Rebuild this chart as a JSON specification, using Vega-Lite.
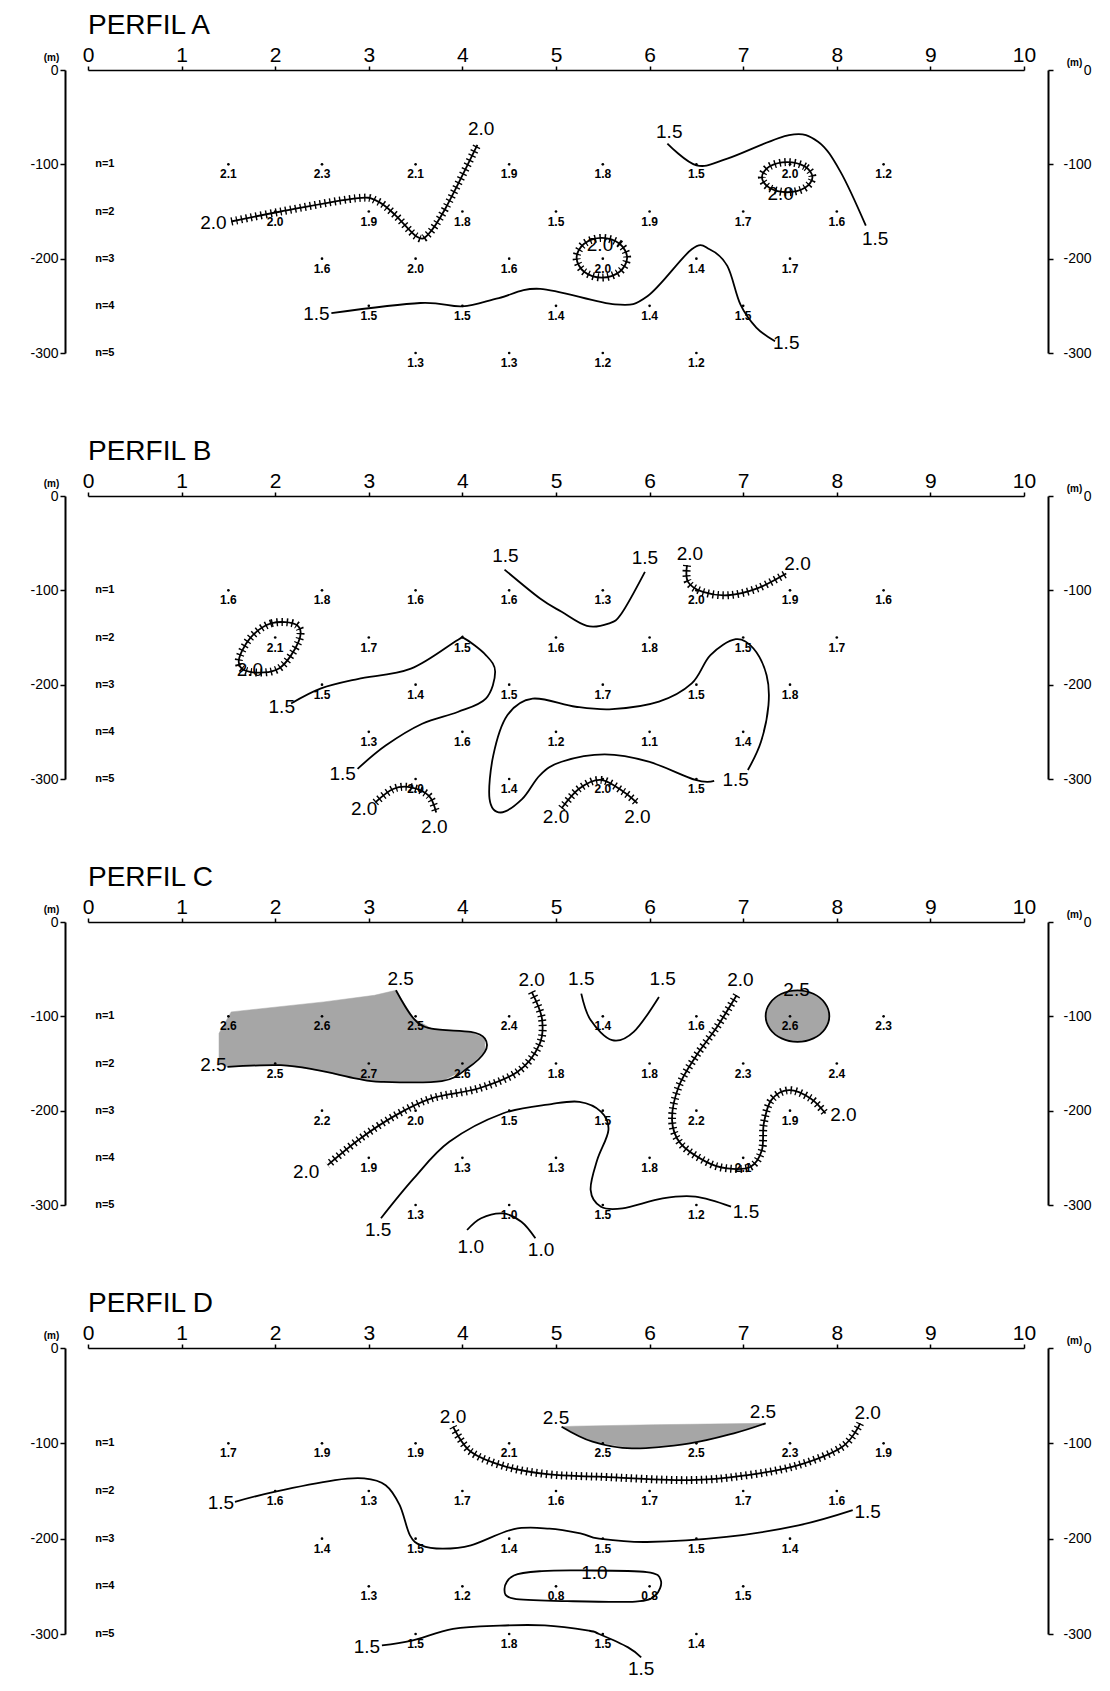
{
"$schema":"https://vega.github.io/schema/vega-lite/v6.json",
"background":"white",
"padding":{"left":29,"top":12,"right":5,"bottom":5},
"config":{"view":{"stroke":null},"axis":{"grid":false,"domainColor":"black","tickColor":"black","labelColor":"black","titleColor":"black"}},
"datasets":{
"nlab":[{"t":"n=1","y":-100},{"t":"n=2","y":-150},{"t":"n=3","y":-200},{"t":"n=4","y":-250},{"t":"n=5","y":-300}],
"pts":[
{"p":"A","x":1.5,"y":-100,"v":"2.1"},{"p":"A","x":2.5,"y":-100,"v":"2.3"},{"p":"A","x":3.5,"y":-100,"v":"2.1"},{"p":"A","x":4.5,"y":-100,"v":"1.9"},{"p":"A","x":5.5,"y":-100,"v":"1.8"},{"p":"A","x":6.5,"y":-100,"v":"1.5"},{"p":"A","x":7.5,"y":-100,"v":"2.0"},{"p":"A","x":8.5,"y":-100,"v":"1.2"},
{"p":"A","x":2,"y":-150,"v":"2.0"},{"p":"A","x":3,"y":-150,"v":"1.9"},{"p":"A","x":4,"y":-150,"v":"1.8"},{"p":"A","x":5,"y":-150,"v":"1.5"},{"p":"A","x":6,"y":-150,"v":"1.9"},{"p":"A","x":7,"y":-150,"v":"1.7"},{"p":"A","x":8,"y":-150,"v":"1.6"},
{"p":"A","x":2.5,"y":-200,"v":"1.6"},{"p":"A","x":3.5,"y":-200,"v":"2.0"},{"p":"A","x":4.5,"y":-200,"v":"1.6"},{"p":"A","x":5.5,"y":-200,"v":"2.0"},{"p":"A","x":6.5,"y":-200,"v":"1.4"},{"p":"A","x":7.5,"y":-200,"v":"1.7"},
{"p":"A","x":3,"y":-250,"v":"1.5"},{"p":"A","x":4,"y":-250,"v":"1.5"},{"p":"A","x":5,"y":-250,"v":"1.4"},{"p":"A","x":6,"y":-250,"v":"1.4"},{"p":"A","x":7,"y":-250,"v":"1.5"},
{"p":"A","x":3.5,"y":-300,"v":"1.3"},{"p":"A","x":4.5,"y":-300,"v":"1.3"},{"p":"A","x":5.5,"y":-300,"v":"1.2"},{"p":"A","x":6.5,"y":-300,"v":"1.2"},
{"p":"B","x":1.5,"y":-100,"v":"1.6"},{"p":"B","x":2.5,"y":-100,"v":"1.8"},{"p":"B","x":3.5,"y":-100,"v":"1.6"},{"p":"B","x":4.5,"y":-100,"v":"1.6"},{"p":"B","x":5.5,"y":-100,"v":"1.3"},{"p":"B","x":6.5,"y":-100,"v":"2.0"},{"p":"B","x":7.5,"y":-100,"v":"1.9"},{"p":"B","x":8.5,"y":-100,"v":"1.6"},
{"p":"B","x":2,"y":-150,"v":"2.1"},{"p":"B","x":3,"y":-150,"v":"1.7"},{"p":"B","x":4,"y":-150,"v":"1.5"},{"p":"B","x":5,"y":-150,"v":"1.6"},{"p":"B","x":6,"y":-150,"v":"1.8"},{"p":"B","x":7,"y":-150,"v":"1.5"},{"p":"B","x":8,"y":-150,"v":"1.7"},
{"p":"B","x":2.5,"y":-200,"v":"1.5"},{"p":"B","x":3.5,"y":-200,"v":"1.4"},{"p":"B","x":4.5,"y":-200,"v":"1.5"},{"p":"B","x":5.5,"y":-200,"v":"1.7"},{"p":"B","x":6.5,"y":-200,"v":"1.5"},{"p":"B","x":7.5,"y":-200,"v":"1.8"},
{"p":"B","x":3,"y":-250,"v":"1.3"},{"p":"B","x":4,"y":-250,"v":"1.6"},{"p":"B","x":5,"y":-250,"v":"1.2"},{"p":"B","x":6,"y":-250,"v":"1.1"},{"p":"B","x":7,"y":-250,"v":"1.4"},
{"p":"B","x":3.5,"y":-300,"v":"2.0"},{"p":"B","x":4.5,"y":-300,"v":"1.4"},{"p":"B","x":5.5,"y":-300,"v":"2.0"},{"p":"B","x":6.5,"y":-300,"v":"1.5"},
{"p":"C","x":1.5,"y":-100,"v":"2.6"},{"p":"C","x":2.5,"y":-100,"v":"2.6"},{"p":"C","x":3.5,"y":-100,"v":"2.5"},{"p":"C","x":4.5,"y":-100,"v":"2.4"},{"p":"C","x":5.5,"y":-100,"v":"1.4"},{"p":"C","x":6.5,"y":-100,"v":"1.6"},{"p":"C","x":7.5,"y":-100,"v":"2.6"},{"p":"C","x":8.5,"y":-100,"v":"2.3"},
{"p":"C","x":2,"y":-150,"v":"2.5"},{"p":"C","x":3,"y":-150,"v":"2.7"},{"p":"C","x":4,"y":-150,"v":"2.6"},{"p":"C","x":5,"y":-150,"v":"1.8"},{"p":"C","x":6,"y":-150,"v":"1.8"},{"p":"C","x":7,"y":-150,"v":"2.3"},{"p":"C","x":8,"y":-150,"v":"2.4"},
{"p":"C","x":2.5,"y":-200,"v":"2.2"},{"p":"C","x":3.5,"y":-200,"v":"2.0"},{"p":"C","x":4.5,"y":-200,"v":"1.5"},{"p":"C","x":5.5,"y":-200,"v":"1.5"},{"p":"C","x":6.5,"y":-200,"v":"2.2"},{"p":"C","x":7.5,"y":-200,"v":"1.9"},
{"p":"C","x":3,"y":-250,"v":"1.9"},{"p":"C","x":4,"y":-250,"v":"1.3"},{"p":"C","x":5,"y":-250,"v":"1.3"},{"p":"C","x":6,"y":-250,"v":"1.8"},{"p":"C","x":7,"y":-250,"v":"2.1"},
{"p":"C","x":3.5,"y":-300,"v":"1.3"},{"p":"C","x":4.5,"y":-300,"v":"1.0"},{"p":"C","x":5.5,"y":-300,"v":"1.5"},{"p":"C","x":6.5,"y":-300,"v":"1.2"},
{"p":"D","x":1.5,"y":-100,"v":"1.7"},{"p":"D","x":2.5,"y":-100,"v":"1.9"},{"p":"D","x":3.5,"y":-100,"v":"1.9"},{"p":"D","x":4.5,"y":-100,"v":"2.1"},{"p":"D","x":5.5,"y":-100,"v":"2.5"},{"p":"D","x":6.5,"y":-100,"v":"2.5"},{"p":"D","x":7.5,"y":-100,"v":"2.3"},{"p":"D","x":8.5,"y":-100,"v":"1.9"},
{"p":"D","x":2,"y":-150,"v":"1.6"},{"p":"D","x":3,"y":-150,"v":"1.3"},{"p":"D","x":4,"y":-150,"v":"1.7"},{"p":"D","x":5,"y":-150,"v":"1.6"},{"p":"D","x":6,"y":-150,"v":"1.7"},{"p":"D","x":7,"y":-150,"v":"1.7"},{"p":"D","x":8,"y":-150,"v":"1.6"},
{"p":"D","x":2.5,"y":-200,"v":"1.4"},{"p":"D","x":3.5,"y":-200,"v":"1.5"},{"p":"D","x":4.5,"y":-200,"v":"1.4"},{"p":"D","x":5.5,"y":-200,"v":"1.5"},{"p":"D","x":6.5,"y":-200,"v":"1.5"},{"p":"D","x":7.5,"y":-200,"v":"1.4"},
{"p":"D","x":3,"y":-250,"v":"1.3"},{"p":"D","x":4,"y":-250,"v":"1.2"},{"p":"D","x":5,"y":-250,"v":"0.8"},{"p":"D","x":6,"y":-250,"v":"0.8"},{"p":"D","x":7,"y":-250,"v":"1.5"},
{"p":"D","x":3.5,"y":-300,"v":"1.5"},{"p":"D","x":4.5,"y":-300,"v":"1.8"},{"p":"D","x":5.5,"y":-300,"v":"1.5"},{"p":"D","x":6.5,"y":-300,"v":"1.4"}
],
"labs":[
{"p":"A","t":"2.0","x":1.34,"y":-162},{"p":"A","t":"2.0","x":4.2,"y":-63},{"p":"A","t":"1.5","x":2.44,"y":-259},{"p":"A","t":"1.5","x":7.46,"y":-289},{"p":"A","t":"1.5","x":6.21,"y":-66},{"p":"A","t":"1.5","x":8.41,"y":-179},{"p":"A","t":"2.0","x":7.4,"y":-131},{"p":"A","t":"2.0","x":5.47,"y":-186},
{"p":"B","t":"1.5","x":4.46,"y":-64},{"p":"B","t":"1.5","x":5.95,"y":-66},{"p":"B","t":"1.5","x":2.07,"y":-224},{"p":"B","t":"1.5","x":2.72,"y":-295},{"p":"B","t":"1.5","x":6.92,"y":-301},{"p":"B","t":"2.0","x":1.73,"y":-184},{"p":"B","t":"2.0","x":2.95,"y":-332},{"p":"B","t":"2.0","x":3.7,"y":-351},{"p":"B","t":"2.0","x":5.0,"y":-340},{"p":"B","t":"2.0","x":5.87,"y":-340},{"p":"B","t":"2.0","x":6.43,"y":-61},{"p":"B","t":"2.0","x":7.58,"y":-72},
{"p":"C","t":"2.5","x":1.34,"y":-152},{"p":"C","t":"2.5","x":3.34,"y":-60},{"p":"C","t":"2.0","x":4.74,"y":-62},{"p":"C","t":"2.0","x":2.33,"y":-265},{"p":"C","t":"1.5","x":3.1,"y":-327},{"p":"C","t":"1.5","x":7.03,"y":-307},{"p":"C","t":"1.0","x":4.09,"y":-344},{"p":"C","t":"1.0","x":4.84,"y":-348},{"p":"C","t":"1.5","x":5.27,"y":-60},{"p":"C","t":"1.5","x":6.14,"y":-60},{"p":"C","t":"2.0","x":6.97,"y":-62},{"p":"C","t":"2.0","x":8.07,"y":-205},{"p":"C","t":"2.5","x":7.57,"y":-72},
{"p":"D","t":"2.0","x":3.9,"y":-72},{"p":"D","t":"2.0","x":8.33,"y":-68},{"p":"D","t":"2.5","x":5.0,"y":-73},{"p":"D","t":"2.5","x":7.21,"y":-67},{"p":"D","t":"1.5","x":1.42,"y":-163},{"p":"D","t":"1.5","x":8.33,"y":-172},{"p":"D","t":"1.0","x":5.41,"y":-236},{"p":"D","t":"1.5","x":2.98,"y":-314},{"p":"D","t":"1.5","x":5.91,"y":-337}
],
"cl":[
{"p":"A","id":"A1","lv":2,"x":1.53,"y":-160.6},{"p":"A","id":"A1","lv":2,"x":2.06,"y":-150},{"p":"A","id":"A1","lv":2,"x":2.86,"y":-136},{"p":"A","id":"A1","lv":2,"x":3.09,"y":-139},{"p":"A","id":"A1","lv":2,"x":3.28,"y":-153.5},{"p":"A","id":"A1","lv":2,"x":3.51,"y":-176.5},{"p":"A","id":"A1","lv":2,"x":3.63,"y":-174.7},{"p":"A","id":"A1","lv":2,"x":3.82,"y":-146.5},{"p":"A","id":"A1","lv":2,"x":4.16,"y":-79.4},
{"p":"A","id":"A2","lv":1.5,"x":2.6,"y":-257.7},{"p":"A","id":"A2","lv":1.5,"x":3.55,"y":-247},{"p":"A","id":"A2","lv":1.5,"x":4.0,"y":-250.6},{"p":"A","id":"A2","lv":1.5,"x":4.39,"y":-241.8},{"p":"A","id":"A2","lv":1.5,"x":4.83,"y":-232},{"p":"A","id":"A2","lv":1.5,"x":5.63,"y":-248.5},{"p":"A","id":"A2","lv":1.5,"x":5.98,"y":-239.6},{"p":"A","id":"A2","lv":1.5,"x":6.45,"y":-190},{"p":"A","id":"A2","lv":1.5,"x":6.64,"y":-190},{"p":"A","id":"A2","lv":1.5,"x":6.83,"y":-207.7},{"p":"A","id":"A2","lv":1.5,"x":6.97,"y":-248.5},{"p":"A","id":"A2","lv":1.5,"x":7.14,"y":-273},{"p":"A","id":"A2","lv":1.5,"x":7.34,"y":-287.5},
{"p":"A","id":"A3","lv":1.5,"x":6.19,"y":-78},{"p":"A","id":"A3","lv":1.5,"x":6.5,"y":-101},{"p":"A","id":"A3","lv":1.5,"x":6.83,"y":-94},{"p":"A","id":"A3","lv":1.5,"x":7.49,"y":-69},{"p":"A","id":"A3","lv":1.5,"x":7.8,"y":-76},{"p":"A","id":"A3","lv":1.5,"x":8.04,"y":-108},{"p":"A","id":"A3","lv":1.5,"x":8.31,"y":-165},
{"p":"B","id":"B1","lv":1.5,"x":4.45,"y":-78},{"p":"B","id":"B1","lv":1.5,"x":4.83,"y":-108.7},{"p":"B","id":"B1","lv":1.5,"x":5.06,"y":-122.8},{"p":"B","id":"B1","lv":1.5,"x":5.33,"y":-137.7},{"p":"B","id":"B1","lv":1.5,"x":5.56,"y":-135.2},{"p":"B","id":"B1","lv":1.5,"x":5.7,"y":-124.6},{"p":"B","id":"B1","lv":1.5,"x":5.95,"y":-80.5},
{"p":"B","id":"B2","lv":1.5,"x":2.17,"y":-220},{"p":"B","id":"B2","lv":1.5,"x":2.49,"y":-204},{"p":"B","id":"B2","lv":1.5,"x":2.88,"y":-194},{"p":"B","id":"B2","lv":1.5,"x":3.45,"y":-183},{"p":"B","id":"B2","lv":1.5,"x":3.95,"y":-152.6},{"p":"B","id":"B2","lv":1.5,"x":4.02,"y":-150.9},{"p":"B","id":"B2","lv":1.5,"x":4.25,"y":-168.6},{"p":"B","id":"B2","lv":1.5,"x":4.35,"y":-186.4},{"p":"B","id":"B2","lv":1.5,"x":4.25,"y":-214.8},{"p":"B","id":"B2","lv":1.5,"x":3.95,"y":-229},{"p":"B","id":"B2","lv":1.5,"x":3.57,"y":-241.4},{"p":"B","id":"B2","lv":1.5,"x":3.18,"y":-264.5},{"p":"B","id":"B2","lv":1.5,"x":2.88,"y":-289.3},
{"p":"B","id":"B3","lv":1.5,"x":6.69,"y":-302},{"p":"B","id":"B3","lv":1.5,"x":6.49,"y":-301},{"p":"B","id":"B3","lv":1.5,"x":5.99,"y":-281.7},{"p":"B","id":"B3","lv":1.5,"x":5.52,"y":-274},{"p":"B","id":"B3","lv":1.5,"x":5.06,"y":-281.7},{"p":"B","id":"B3","lv":1.5,"x":4.83,"y":-295.8},{"p":"B","id":"B3","lv":1.5,"x":4.64,"y":-321},{"p":"B","id":"B3","lv":1.5,"x":4.41,"y":-335.5},{"p":"B","id":"B3","lv":1.5,"x":4.29,"y":-321},{"p":"B","id":"B3","lv":1.5,"x":4.33,"y":-275},{"p":"B","id":"B3","lv":1.5,"x":4.48,"y":-232.5},{"p":"B","id":"B3","lv":1.5,"x":4.75,"y":-214.8},{"p":"B","id":"B3","lv":1.5,"x":5.21,"y":-223.4},{"p":"B","id":"B3","lv":1.5,"x":5.6,"y":-226},{"p":"B","id":"B3","lv":1.5,"x":6.1,"y":-218},{"p":"B","id":"B3","lv":1.5,"x":6.45,"y":-198.7},{"p":"B","id":"B3","lv":1.5,"x":6.65,"y":-168.7},{"p":"B","id":"B3","lv":1.5,"x":6.92,"y":-151.8},{"p":"B","id":"B3","lv":1.5,"x":7.11,"y":-161.7},{"p":"B","id":"B3","lv":1.5,"x":7.25,"y":-190},{"p":"B","id":"B3","lv":1.5,"x":7.27,"y":-221.7},{"p":"B","id":"B3","lv":1.5,"x":7.19,"y":-260.5},{"p":"B","id":"B3","lv":1.5,"x":7.05,"y":-290.5},
{"p":"B","id":"B4","lv":2,"x":3.07,"y":-324.8},{"p":"B","id":"B4","lv":2,"x":3.26,"y":-310.6},{"p":"B","id":"B4","lv":2,"x":3.45,"y":-308.8},{"p":"B","id":"B4","lv":2,"x":3.64,"y":-317.7},{"p":"B","id":"B4","lv":2,"x":3.72,"y":-335.5},
{"p":"B","id":"B5","lv":2,"x":5.06,"y":-331},{"p":"B","id":"B5","lv":2,"x":5.25,"y":-310},{"p":"B","id":"B5","lv":2,"x":5.48,"y":-301},{"p":"B","id":"B5","lv":2,"x":5.72,"y":-313.4},{"p":"B","id":"B5","lv":2,"x":5.87,"y":-325.8},
{"p":"B","id":"B6","lv":2,"x":6.4,"y":-73.4},{"p":"B","id":"B6","lv":2,"x":6.41,"y":-91},{"p":"B","id":"B6","lv":2,"x":6.57,"y":-101.7},{"p":"B","id":"B6","lv":2,"x":6.84,"y":-105.2},{"p":"B","id":"B6","lv":2,"x":7.15,"y":-98},{"p":"B","id":"B6","lv":2,"x":7.46,"y":-82.2},
{"p":"C","id":"C1","lv":2.5,"x":1.49,"y":-153.5},{"p":"C","id":"C1","lv":2.5,"x":2.06,"y":-151.8},{"p":"C","id":"C1","lv":2.5,"x":2.45,"y":-157},{"p":"C","id":"C1","lv":2.5,"x":2.87,"y":-166},{"p":"C","id":"C1","lv":2.5,"x":3.13,"y":-169.4},{"p":"C","id":"C1","lv":2.5,"x":3.78,"y":-168.7},{"p":"C","id":"C1","lv":2.5,"x":4.05,"y":-155.3},{"p":"C","id":"C1","lv":2.5,"x":4.24,"y":-137.7},{"p":"C","id":"C1","lv":2.5,"x":4.24,"y":-123.5},{"p":"C","id":"C1","lv":2.5,"x":4.09,"y":-116.5},{"p":"C","id":"C1","lv":2.5,"x":3.67,"y":-113},{"p":"C","id":"C1","lv":2.5,"x":3.48,"y":-102.4},{"p":"C","id":"C1","lv":2.5,"x":3.29,"y":-72.4},
{"p":"C","id":"C2","lv":2,"x":4.74,"y":-74},{"p":"C","id":"C2","lv":2,"x":4.85,"y":-102.4},{"p":"C","id":"C2","lv":2,"x":4.82,"y":-130.6},{"p":"C","id":"C2","lv":2,"x":4.59,"y":-158.8},{"p":"C","id":"C2","lv":2,"x":4.17,"y":-176.5},{"p":"C","id":"C2","lv":2,"x":3.67,"y":-187},{"p":"C","id":"C2","lv":2,"x":3.29,"y":-204.7},{"p":"C","id":"C2","lv":2,"x":2.91,"y":-229.4},{"p":"C","id":"C2","lv":2,"x":2.56,"y":-257.7},
{"p":"C","id":"C3","lv":1.5,"x":3.13,"y":-314},{"p":"C","id":"C3","lv":1.5,"x":3.48,"y":-271.8},{"p":"C","id":"C3","lv":1.5,"x":3.86,"y":-233},{"p":"C","id":"C3","lv":1.5,"x":4.43,"y":-203},{"p":"C","id":"C3","lv":1.5,"x":4.95,"y":-193},{"p":"C","id":"C3","lv":1.5,"x":5.25,"y":-190.6},{"p":"C","id":"C3","lv":1.5,"x":5.48,"y":-201},{"p":"C","id":"C3","lv":1.5,"x":5.56,"y":-220.6},{"p":"C","id":"C3","lv":1.5,"x":5.44,"y":-252.4},{"p":"C","id":"C3","lv":1.5,"x":5.37,"y":-284},{"p":"C","id":"C3","lv":1.5,"x":5.48,"y":-301.8},{"p":"C","id":"C3","lv":1.5,"x":5.71,"y":-303.5},{"p":"C","id":"C3","lv":1.5,"x":6.14,"y":-293},{"p":"C","id":"C3","lv":1.5,"x":6.49,"y":-291.2},{"p":"C","id":"C3","lv":1.5,"x":6.87,"y":-301.8},
{"p":"C","id":"C4","lv":1,"x":4.05,"y":-326.5},{"p":"C","id":"C4","lv":1,"x":4.2,"y":-314},{"p":"C","id":"C4","lv":1,"x":4.43,"y":-308.9},{"p":"C","id":"C4","lv":1,"x":4.63,"y":-317.7},{"p":"C","id":"C4","lv":1,"x":4.78,"y":-335.3},
{"p":"C","id":"C5","lv":1.5,"x":5.27,"y":-75.9},{"p":"C","id":"C5","lv":1.5,"x":5.37,"y":-104},{"p":"C","id":"C5","lv":1.5,"x":5.6,"y":-125.3},{"p":"C","id":"C5","lv":1.5,"x":5.83,"y":-116.5},{"p":"C","id":"C5","lv":1.5,"x":6.1,"y":-79.4},
{"p":"C","id":"C6","lv":2,"x":6.93,"y":-77.7},{"p":"C","id":"C6","lv":2,"x":6.72,"y":-111.2},{"p":"C","id":"C6","lv":2,"x":6.49,"y":-143},{"p":"C","id":"C6","lv":2,"x":6.31,"y":-174.7},{"p":"C","id":"C6","lv":2,"x":6.24,"y":-210},{"p":"C","id":"C6","lv":2,"x":6.33,"y":-234.7},{"p":"C","id":"C6","lv":2,"x":6.6,"y":-254},{"p":"C","id":"C6","lv":2,"x":6.83,"y":-261.2},{"p":"C","id":"C6","lv":2,"x":7.08,"y":-259.4},{"p":"C","id":"C6","lv":2,"x":7.2,"y":-241.8},{"p":"C","id":"C6","lv":2,"x":7.22,"y":-213.6},{"p":"C","id":"C6","lv":2,"x":7.3,"y":-188.8},{"p":"C","id":"C6","lv":2,"x":7.49,"y":-178.3},{"p":"C","id":"C6","lv":2,"x":7.72,"y":-187},{"p":"C","id":"C6","lv":2,"x":7.88,"y":-203},
{"p":"D","id":"D1","lv":2,"x":3.9,"y":-82.5},{"p":"D","id":"D1","lv":2,"x":4.09,"y":-108.8},{"p":"D","id":"D1","lv":2,"x":4.47,"y":-124.6},{"p":"D","id":"D1","lv":2,"x":4.93,"y":-132.6},{"p":"D","id":"D1","lv":2,"x":5.46,"y":-135},{"p":"D","id":"D1","lv":2,"x":6.43,"y":-138.6},{"p":"D","id":"D1","lv":2,"x":7.05,"y":-133.3},{"p":"D","id":"D1","lv":2,"x":7.59,"y":-122.8},{"p":"D","id":"D1","lv":2,"x":8.06,"y":-103.5},{"p":"D","id":"D1","lv":2,"x":8.25,"y":-79},
{"p":"D","id":"D2","lv":2.5,"x":5.06,"y":-82.5},{"p":"D","id":"D2","lv":2.5,"x":5.39,"y":-98.2},{"p":"D","id":"D2","lv":2.5,"x":5.81,"y":-105.3},{"p":"D","id":"D2","lv":2.5,"x":6.43,"y":-100},{"p":"D","id":"D2","lv":2.5,"x":6.9,"y":-89.5},{"p":"D","id":"D2","lv":2.5,"x":7.24,"y":-79},
{"p":"D","id":"D3","lv":1.5,"x":1.57,"y":-161.4},{"p":"D","id":"D3","lv":1.5,"x":1.99,"y":-150.9},{"p":"D","id":"D3","lv":1.5,"x":2.64,"y":-138.6},{"p":"D","id":"D3","lv":1.5,"x":2.95,"y":-136.8},{"p":"D","id":"D3","lv":1.5,"x":3.18,"y":-143.9},{"p":"D","id":"D3","lv":1.5,"x":3.33,"y":-164.9},{"p":"D","id":"D3","lv":1.5,"x":3.44,"y":-196.5},{"p":"D","id":"D3","lv":1.5,"x":3.56,"y":-207},{"p":"D","id":"D3","lv":1.5,"x":3.79,"y":-210.5},{"p":"D","id":"D3","lv":1.5,"x":4.09,"y":-207},{"p":"D","id":"D3","lv":1.5,"x":4.55,"y":-190},{"p":"D","id":"D3","lv":1.5,"x":4.93,"y":-189.5},{"p":"D","id":"D3","lv":1.5,"x":5.27,"y":-194.7},{"p":"D","id":"D3","lv":1.5,"x":5.46,"y":-200},{"p":"D","id":"D3","lv":1.5,"x":5.97,"y":-203.5},{"p":"D","id":"D3","lv":1.5,"x":6.82,"y":-198.2},{"p":"D","id":"D3","lv":1.5,"x":7.59,"y":-186},{"p":"D","id":"D3","lv":1.5,"x":8.17,"y":-170},
{"p":"D","id":"D5","lv":1.5,"x":3.14,"y":-312},{"p":"D","id":"D5","lv":1.5,"x":3.46,"y":-307},{"p":"D","id":"D5","lv":1.5,"x":3.9,"y":-294.7},{"p":"D","id":"D5","lv":1.5,"x":4.4,"y":-291.2},{"p":"D","id":"D5","lv":1.5,"x":4.88,"y":-291},{"p":"D","id":"D5","lv":1.5,"x":5.35,"y":-296.5},{"p":"D","id":"D5","lv":1.5,"x":5.46,"y":-300},{"p":"D","id":"D5","lv":1.5,"x":5.77,"y":-314},{"p":"D","id":"D5","lv":1.5,"x":5.91,"y":-324.6}
],
"lp":[
{"p":"A","id":"A4","lv":2,"x":7.74,"y":-113.6},{"p":"A","id":"A4","lv":2,"x":7.66,"y":-102.3},{"p":"A","id":"A4","lv":2,"x":7.47,"y":-97.6},{"p":"A","id":"A4","lv":2,"x":7.28,"y":-102.3},{"p":"A","id":"A4","lv":2,"x":7.2,"y":-113.6},{"p":"A","id":"A4","lv":2,"x":7.28,"y":-124.9},{"p":"A","id":"A4","lv":2,"x":7.47,"y":-129.6},{"p":"A","id":"A4","lv":2,"x":7.66,"y":-124.9},
{"p":"A","id":"A5","lv":2,"x":5.76,"y":-199},{"p":"A","id":"A5","lv":2,"x":5.68,"y":-184.2},{"p":"A","id":"A5","lv":2,"x":5.49,"y":-178},{"p":"A","id":"A5","lv":2,"x":5.3,"y":-184.2},{"p":"A","id":"A5","lv":2,"x":5.22,"y":-199},{"p":"A","id":"A5","lv":2,"x":5.3,"y":-213.8},{"p":"A","id":"A5","lv":2,"x":5.49,"y":-220},{"p":"A","id":"A5","lv":2,"x":5.68,"y":-213.8},
{"p":"B","id":"B7","lv":2,"x":2.23,"y":-136.7},{"p":"B","id":"B7","lv":2,"x":1.96,"y":-134.9},{"p":"B","id":"B7","lv":2,"x":1.73,"y":-150.9},{"p":"B","id":"B7","lv":2,"x":1.61,"y":-175.7},{"p":"B","id":"B7","lv":2,"x":1.73,"y":-186.4},{"p":"B","id":"B7","lv":2,"x":2.04,"y":-182.8},{"p":"B","id":"B7","lv":2,"x":2.25,"y":-154.4},
{"p":"C","id":"C7","lv":2.5,"x":7.92,"y":-99.7},{"p":"C","id":"C7","lv":2.5,"x":7.874,"y":-86.05},{"p":"C","id":"C7","lv":2.5,"x":7.75,"y":-76.06},{"p":"C","id":"C7","lv":2.5,"x":7.58,"y":-72.4},{"p":"C","id":"C7","lv":2.5,"x":7.41,"y":-76.06},{"p":"C","id":"C7","lv":2.5,"x":7.286,"y":-86.05},{"p":"C","id":"C7","lv":2.5,"x":7.24,"y":-99.7},{"p":"C","id":"C7","lv":2.5,"x":7.286,"y":-113.35},{"p":"C","id":"C7","lv":2.5,"x":7.41,"y":-123.34},{"p":"C","id":"C7","lv":2.5,"x":7.58,"y":-127},{"p":"C","id":"C7","lv":2.5,"x":7.75,"y":-123.34},{"p":"C","id":"C7","lv":2.5,"x":7.874,"y":-113.35},
{"p":"D","id":"D4","lv":1,"x":4.55,"y":-238.6},{"p":"D","id":"D4","lv":1,"x":4.85,"y":-234},{"p":"D","id":"D4","lv":1,"x":5.27,"y":-233.3},{"p":"D","id":"D4","lv":1,"x":5.97,"y":-235},{"p":"D","id":"D4","lv":1,"x":6.12,"y":-243.9},{"p":"D","id":"D4","lv":1,"x":6.06,"y":-259.6},{"p":"D","id":"D4","lv":1,"x":5.85,"y":-266},{"p":"D","id":"D4","lv":1,"x":5.12,"y":-265.5},{"p":"D","id":"D4","lv":1,"x":4.55,"y":-263},{"p":"D","id":"D4","lv":1,"x":4.45,"y":-252.6}
],
"fl":[
{"p":"C","id":"CF1","x":1.49,"y":-153.5},{"p":"C","id":"CF1","x":2.06,"y":-151.8},{"p":"C","id":"CF1","x":2.45,"y":-157},{"p":"C","id":"CF1","x":2.87,"y":-166},{"p":"C","id":"CF1","x":3.13,"y":-169.4},{"p":"C","id":"CF1","x":3.78,"y":-168.7},{"p":"C","id":"CF1","x":4.05,"y":-155.3},{"p":"C","id":"CF1","x":4.24,"y":-137.7},{"p":"C","id":"CF1","x":4.24,"y":-123.5},{"p":"C","id":"CF1","x":4.09,"y":-116.5},{"p":"C","id":"CF1","x":3.67,"y":-113},{"p":"C","id":"CF1","x":3.48,"y":-102.4},{"p":"C","id":"CF1","x":3.29,"y":-72.4},{"p":"C","id":"CF1","x":3.06,"y":-77.7},{"p":"C","id":"CF1","x":2.52,"y":-84.7},{"p":"C","id":"CF1","x":1.53,"y":-95.3},{"p":"C","id":"CF1","x":1.4,"y":-118},{"p":"C","id":"CF1","x":1.4,"y":-150},
{"p":"C","id":"CF2","x":7.92,"y":-99.7},{"p":"C","id":"CF2","x":7.874,"y":-86.05},{"p":"C","id":"CF2","x":7.75,"y":-76.06},{"p":"C","id":"CF2","x":7.58,"y":-72.4},{"p":"C","id":"CF2","x":7.41,"y":-76.06},{"p":"C","id":"CF2","x":7.286,"y":-86.05},{"p":"C","id":"CF2","x":7.24,"y":-99.7},{"p":"C","id":"CF2","x":7.286,"y":-113.35},{"p":"C","id":"CF2","x":7.41,"y":-123.34},{"p":"C","id":"CF2","x":7.58,"y":-127},{"p":"C","id":"CF2","x":7.75,"y":-123.34},{"p":"C","id":"CF2","x":7.874,"y":-113.35},
{"p":"D","id":"DF1","x":5.06,"y":-82.5},{"p":"D","id":"DF1","x":5.39,"y":-98.2},{"p":"D","id":"DF1","x":5.81,"y":-105.3},{"p":"D","id":"DF1","x":6.43,"y":-100},{"p":"D","id":"DF1","x":6.9,"y":-89.5},{"p":"D","id":"DF1","x":7.24,"y":-79},{"p":"D","id":"DF1","x":6.04,"y":-80.5},{"p":"D","id":"DF1","x":5.2,"y":-82}
]
},
"vconcat":[
{"title":{"text":"PERFIL A","anchor":"start","frame":"group","offset":4,"fontSize":28,"font":"Liberation Sans","fontWeight":"normal","color":"black"},
"width":936,"height":283,"resolve":{"axis":{"x":"independent","y":"independent"}},
"layer":[
{"data":{"name":"fl"},"transform":[{"filter":"datum.p=='A'"}],"mark":{"type":"line","interpolate":"linear-closed","fill":"#a6a6a6","stroke":"#a6a6a6","strokeWidth":0.5},"encoding":{"x":{"field":"x","type":"quantitative","scale":{"domain":[0,10]},"axis":null},"y":{"field":"y","type":"quantitative","scale":{"domain":[-300,0]},"axis":null},"detail":{"field":"id","type":"nominal"},"order":{"value":null}}},
{"data":{"name":"cl"},"transform":[{"filter":"datum.p=='A'"}],"mark":{"type":"line","interpolate":"cardinal","color":"black","strokeWidth":1.8},"encoding":{"x":{"field":"x","type":"quantitative","scale":{"domain":[0,10]},"axis":null},"y":{"field":"y","type":"quantitative","scale":{"domain":[-300,0]},"axis":null},"detail":{"field":"id","type":"nominal"},"order":{"value":null}}},
{"data":{"name":"lp"},"transform":[{"filter":"datum.p=='A'"}],"mark":{"type":"line","interpolate":"cardinal-closed","color":"black","strokeWidth":1.8},"encoding":{"x":{"field":"x","type":"quantitative","scale":{"domain":[0,10]},"axis":null},"y":{"field":"y","type":"quantitative","scale":{"domain":[-300,0]},"axis":null},"detail":{"field":"id","type":"nominal"},"order":{"value":null}}},
{"data":{"name":"cl"},"transform":[{"filter":"datum.p=='A' && datum.lv==2"}],"mark":{"type":"line","interpolate":"cardinal","color":"black","strokeWidth":8,"strokeDash":[1.4,3.6]},"encoding":{"x":{"field":"x","type":"quantitative","scale":{"domain":[0,10]},"axis":null},"y":{"field":"y","type":"quantitative","scale":{"domain":[-300,0]},"axis":null},"detail":{"field":"id","type":"nominal"},"order":{"value":null}}},
{"data":{"name":"lp"},"transform":[{"filter":"datum.p=='A' && datum.lv==2"}],"mark":{"type":"line","interpolate":"cardinal-closed","color":"black","strokeWidth":8,"strokeDash":[1.4,3.6]},"encoding":{"x":{"field":"x","type":"quantitative","scale":{"domain":[0,10]},"axis":null},"y":{"field":"y","type":"quantitative","scale":{"domain":[-300,0]},"axis":null},"detail":{"field":"id","type":"nominal"},"order":{"value":null}}},
{"data":{"name":"pts"},"transform":[{"filter":"datum.p=='A'"}],"mark":{"type":"point","filled":true,"size":7,"color":"black","opacity":1},"encoding":{"x":{"field":"x","type":"quantitative","scale":{"domain":[0,10]},"axis":{"orient":"top","values":[0,1,2,3,4,5,6,7,8,9,10],"tickSize":4,"tickWidth":1.5,"domainWidth":1.5,"labelFont":"Liberation Sans Narrow, Liberation Sans","labelFontSize":21,"labelPadding":1,"labelFlush":false,"title":null}},"y":{"field":"y","type":"quantitative","scale":{"domain":[-300,0]},"axis":{"orient":"left","offset":23,"values":[0,-100,-200,-300],"tickSize":5,"tickWidth":1.5,"domainWidth":2,"labelFont":"Liberation Sans","labelFontSize":14,"labelPadding":2,"labelExpr":"replace(datum.label,'−','-')","title":"(m)","titleAngle":0,"titleX":-14,"titleY":-8,"titleFontSize":10,"titleFontWeight":"bold","titleAlign":"center","titleBaseline":"bottom"}}}},
{"data":{"name":"pts"},"transform":[{"filter":"datum.p=='A'"}],"mark":{"type":"text","font":"Liberation Sans","fontWeight":"bold","fontSize":12,"dy":10,"color":"black"},"encoding":{"x":{"field":"x","type":"quantitative","scale":{"domain":[0,10]},"axis":null},"y":{"field":"y","type":"quantitative","scale":{"domain":[-300,0]},"axis":null},"text":{"field":"v","type":"nominal"}}},
{"data":{"name":"labs"},"transform":[{"filter":"datum.p=='A'"}],"mark":{"type":"text","font":"Liberation Sans","fontSize":19,"color":"black"},"encoding":{"x":{"field":"x","type":"quantitative","scale":{"domain":[0,10]},"axis":null},"y":{"field":"y","type":"quantitative","scale":{"domain":[-300,0]},"axis":null},"text":{"field":"t","type":"nominal"}}},
{"data":{"name":"nlab"},"mark":{"type":"text","font":"Liberation Sans","fontWeight":"bold","fontSize":11,"color":"black"},"encoding":{"x":{"datum":0.18,"type":"quantitative","scale":{"domain":[0,10]},"axis":null},"y":{"field":"y","type":"quantitative","scale":{"domain":[-300,0]},"axis":{"orient":"right","offset":24,"values":[0,-100,-200,-300],"tickSize":5,"tickWidth":1.5,"domainWidth":2,"labelFont":"Liberation Sans","labelFontSize":14,"labelAlign":"right","labelPadding":38,"labelExpr":"replace(datum.label,'−','-')","title":"(m)","titleAngle":0,"titleX":26,"titleY":-3,"titleFontSize":10,"titleFontWeight":"bold","titleAlign":"center","titleBaseline":"bottom"}},"text":{"field":"t","type":"nominal"}}}
]},
{"title":{"text":"PERFIL B","anchor":"start","frame":"group","offset":4,"fontSize":28,"font":"Liberation Sans","fontWeight":"normal","color":"black"},
"width":936,"height":283,"resolve":{"axis":{"x":"independent","y":"independent"}},
"layer":[
{"data":{"name":"fl"},"transform":[{"filter":"datum.p=='B'"}],"mark":{"type":"line","interpolate":"linear-closed","fill":"#a6a6a6","stroke":"#a6a6a6","strokeWidth":0.5},"encoding":{"x":{"field":"x","type":"quantitative","scale":{"domain":[0,10]},"axis":null},"y":{"field":"y","type":"quantitative","scale":{"domain":[-300,0]},"axis":null},"detail":{"field":"id","type":"nominal"},"order":{"value":null}}},
{"data":{"name":"cl"},"transform":[{"filter":"datum.p=='B'"}],"mark":{"type":"line","interpolate":"cardinal","color":"black","strokeWidth":1.8},"encoding":{"x":{"field":"x","type":"quantitative","scale":{"domain":[0,10]},"axis":null},"y":{"field":"y","type":"quantitative","scale":{"domain":[-300,0]},"axis":null},"detail":{"field":"id","type":"nominal"},"order":{"value":null}}},
{"data":{"name":"lp"},"transform":[{"filter":"datum.p=='B'"}],"mark":{"type":"line","interpolate":"cardinal-closed","color":"black","strokeWidth":1.8},"encoding":{"x":{"field":"x","type":"quantitative","scale":{"domain":[0,10]},"axis":null},"y":{"field":"y","type":"quantitative","scale":{"domain":[-300,0]},"axis":null},"detail":{"field":"id","type":"nominal"},"order":{"value":null}}},
{"data":{"name":"cl"},"transform":[{"filter":"datum.p=='B' && datum.lv==2"}],"mark":{"type":"line","interpolate":"cardinal","color":"black","strokeWidth":8,"strokeDash":[1.4,3.6]},"encoding":{"x":{"field":"x","type":"quantitative","scale":{"domain":[0,10]},"axis":null},"y":{"field":"y","type":"quantitative","scale":{"domain":[-300,0]},"axis":null},"detail":{"field":"id","type":"nominal"},"order":{"value":null}}},
{"data":{"name":"lp"},"transform":[{"filter":"datum.p=='B' && datum.lv==2"}],"mark":{"type":"line","interpolate":"cardinal-closed","color":"black","strokeWidth":8,"strokeDash":[1.4,3.6]},"encoding":{"x":{"field":"x","type":"quantitative","scale":{"domain":[0,10]},"axis":null},"y":{"field":"y","type":"quantitative","scale":{"domain":[-300,0]},"axis":null},"detail":{"field":"id","type":"nominal"},"order":{"value":null}}},
{"data":{"name":"pts"},"transform":[{"filter":"datum.p=='B'"}],"mark":{"type":"point","filled":true,"size":7,"color":"black","opacity":1},"encoding":{"x":{"field":"x","type":"quantitative","scale":{"domain":[0,10]},"axis":{"orient":"top","values":[0,1,2,3,4,5,6,7,8,9,10],"tickSize":4,"tickWidth":1.5,"domainWidth":1.5,"labelFont":"Liberation Sans Narrow, Liberation Sans","labelFontSize":21,"labelPadding":1,"labelFlush":false,"title":null}},"y":{"field":"y","type":"quantitative","scale":{"domain":[-300,0]},"axis":{"orient":"left","offset":23,"values":[0,-100,-200,-300],"tickSize":5,"tickWidth":1.5,"domainWidth":2,"labelFont":"Liberation Sans","labelFontSize":14,"labelPadding":2,"labelExpr":"replace(datum.label,'−','-')","title":"(m)","titleAngle":0,"titleX":-14,"titleY":-8,"titleFontSize":10,"titleFontWeight":"bold","titleAlign":"center","titleBaseline":"bottom"}}}},
{"data":{"name":"pts"},"transform":[{"filter":"datum.p=='B'"}],"mark":{"type":"text","font":"Liberation Sans","fontWeight":"bold","fontSize":12,"dy":10,"color":"black"},"encoding":{"x":{"field":"x","type":"quantitative","scale":{"domain":[0,10]},"axis":null},"y":{"field":"y","type":"quantitative","scale":{"domain":[-300,0]},"axis":null},"text":{"field":"v","type":"nominal"}}},
{"data":{"name":"labs"},"transform":[{"filter":"datum.p=='B'"}],"mark":{"type":"text","font":"Liberation Sans","fontSize":19,"color":"black"},"encoding":{"x":{"field":"x","type":"quantitative","scale":{"domain":[0,10]},"axis":null},"y":{"field":"y","type":"quantitative","scale":{"domain":[-300,0]},"axis":null},"text":{"field":"t","type":"nominal"}}},
{"data":{"name":"nlab"},"mark":{"type":"text","font":"Liberation Sans","fontWeight":"bold","fontSize":11,"color":"black"},"encoding":{"x":{"datum":0.18,"type":"quantitative","scale":{"domain":[0,10]},"axis":null},"y":{"field":"y","type":"quantitative","scale":{"domain":[-300,0]},"axis":{"orient":"right","offset":24,"values":[0,-100,-200,-300],"tickSize":5,"tickWidth":1.5,"domainWidth":2,"labelFont":"Liberation Sans","labelFontSize":14,"labelAlign":"right","labelPadding":38,"labelExpr":"replace(datum.label,'−','-')","title":"(m)","titleAngle":0,"titleX":26,"titleY":-3,"titleFontSize":10,"titleFontWeight":"bold","titleAlign":"center","titleBaseline":"bottom"}},"text":{"field":"t","type":"nominal"}}}
]},
{"title":{"text":"PERFIL C","anchor":"start","frame":"group","offset":4,"fontSize":28,"font":"Liberation Sans","fontWeight":"normal","color":"black"},
"width":936,"height":283,"resolve":{"axis":{"x":"independent","y":"independent"}},
"layer":[
{"data":{"name":"fl"},"transform":[{"filter":"datum.p=='C'"}],"mark":{"type":"line","interpolate":"linear-closed","fill":"#a6a6a6","stroke":"#a6a6a6","strokeWidth":0.5},"encoding":{"x":{"field":"x","type":"quantitative","scale":{"domain":[0,10]},"axis":null},"y":{"field":"y","type":"quantitative","scale":{"domain":[-300,0]},"axis":null},"detail":{"field":"id","type":"nominal"},"order":{"value":null}}},
{"data":{"name":"cl"},"transform":[{"filter":"datum.p=='C'"}],"mark":{"type":"line","interpolate":"cardinal","color":"black","strokeWidth":1.8},"encoding":{"x":{"field":"x","type":"quantitative","scale":{"domain":[0,10]},"axis":null},"y":{"field":"y","type":"quantitative","scale":{"domain":[-300,0]},"axis":null},"detail":{"field":"id","type":"nominal"},"order":{"value":null}}},
{"data":{"name":"lp"},"transform":[{"filter":"datum.p=='C'"}],"mark":{"type":"line","interpolate":"cardinal-closed","color":"black","strokeWidth":1.8},"encoding":{"x":{"field":"x","type":"quantitative","scale":{"domain":[0,10]},"axis":null},"y":{"field":"y","type":"quantitative","scale":{"domain":[-300,0]},"axis":null},"detail":{"field":"id","type":"nominal"},"order":{"value":null}}},
{"data":{"name":"cl"},"transform":[{"filter":"datum.p=='C' && datum.lv==2"}],"mark":{"type":"line","interpolate":"cardinal","color":"black","strokeWidth":8,"strokeDash":[1.4,3.6]},"encoding":{"x":{"field":"x","type":"quantitative","scale":{"domain":[0,10]},"axis":null},"y":{"field":"y","type":"quantitative","scale":{"domain":[-300,0]},"axis":null},"detail":{"field":"id","type":"nominal"},"order":{"value":null}}},
{"data":{"name":"lp"},"transform":[{"filter":"datum.p=='C' && datum.lv==2"}],"mark":{"type":"line","interpolate":"cardinal-closed","color":"black","strokeWidth":8,"strokeDash":[1.4,3.6]},"encoding":{"x":{"field":"x","type":"quantitative","scale":{"domain":[0,10]},"axis":null},"y":{"field":"y","type":"quantitative","scale":{"domain":[-300,0]},"axis":null},"detail":{"field":"id","type":"nominal"},"order":{"value":null}}},
{"data":{"name":"pts"},"transform":[{"filter":"datum.p=='C'"}],"mark":{"type":"point","filled":true,"size":7,"color":"black","opacity":1},"encoding":{"x":{"field":"x","type":"quantitative","scale":{"domain":[0,10]},"axis":{"orient":"top","values":[0,1,2,3,4,5,6,7,8,9,10],"tickSize":4,"tickWidth":1.5,"domainWidth":1.5,"labelFont":"Liberation Sans Narrow, Liberation Sans","labelFontSize":21,"labelPadding":1,"labelFlush":false,"title":null}},"y":{"field":"y","type":"quantitative","scale":{"domain":[-300,0]},"axis":{"orient":"left","offset":23,"values":[0,-100,-200,-300],"tickSize":5,"tickWidth":1.5,"domainWidth":2,"labelFont":"Liberation Sans","labelFontSize":14,"labelPadding":2,"labelExpr":"replace(datum.label,'−','-')","title":"(m)","titleAngle":0,"titleX":-14,"titleY":-8,"titleFontSize":10,"titleFontWeight":"bold","titleAlign":"center","titleBaseline":"bottom"}}}},
{"data":{"name":"pts"},"transform":[{"filter":"datum.p=='C'"}],"mark":{"type":"text","font":"Liberation Sans","fontWeight":"bold","fontSize":12,"dy":10,"color":"black"},"encoding":{"x":{"field":"x","type":"quantitative","scale":{"domain":[0,10]},"axis":null},"y":{"field":"y","type":"quantitative","scale":{"domain":[-300,0]},"axis":null},"text":{"field":"v","type":"nominal"}}},
{"data":{"name":"labs"},"transform":[{"filter":"datum.p=='C'"}],"mark":{"type":"text","font":"Liberation Sans","fontSize":19,"color":"black"},"encoding":{"x":{"field":"x","type":"quantitative","scale":{"domain":[0,10]},"axis":null},"y":{"field":"y","type":"quantitative","scale":{"domain":[-300,0]},"axis":null},"text":{"field":"t","type":"nominal"}}},
{"data":{"name":"nlab"},"mark":{"type":"text","font":"Liberation Sans","fontWeight":"bold","fontSize":11,"color":"black"},"encoding":{"x":{"datum":0.18,"type":"quantitative","scale":{"domain":[0,10]},"axis":null},"y":{"field":"y","type":"quantitative","scale":{"domain":[-300,0]},"axis":{"orient":"right","offset":24,"values":[0,-100,-200,-300],"tickSize":5,"tickWidth":1.5,"domainWidth":2,"labelFont":"Liberation Sans","labelFontSize":14,"labelAlign":"right","labelPadding":38,"labelExpr":"replace(datum.label,'−','-')","title":"(m)","titleAngle":0,"titleX":26,"titleY":-3,"titleFontSize":10,"titleFontWeight":"bold","titleAlign":"center","titleBaseline":"bottom"}},"text":{"field":"t","type":"nominal"}}}
]},
{"title":{"text":"PERFIL D","anchor":"start","frame":"group","offset":4,"fontSize":28,"font":"Liberation Sans","fontWeight":"normal","color":"black"},
"width":936,"height":286,"resolve":{"axis":{"x":"independent","y":"independent"}},
"layer":[
{"data":{"name":"fl"},"transform":[{"filter":"datum.p=='D'"}],"mark":{"type":"line","interpolate":"linear-closed","fill":"#a6a6a6","stroke":"#a6a6a6","strokeWidth":0.5},"encoding":{"x":{"field":"x","type":"quantitative","scale":{"domain":[0,10]},"axis":null},"y":{"field":"y","type":"quantitative","scale":{"domain":[-300,0]},"axis":null},"detail":{"field":"id","type":"nominal"},"order":{"value":null}}},
{"data":{"name":"cl"},"transform":[{"filter":"datum.p=='D'"}],"mark":{"type":"line","interpolate":"cardinal","color":"black","strokeWidth":1.8},"encoding":{"x":{"field":"x","type":"quantitative","scale":{"domain":[0,10]},"axis":null},"y":{"field":"y","type":"quantitative","scale":{"domain":[-300,0]},"axis":null},"detail":{"field":"id","type":"nominal"},"order":{"value":null}}},
{"data":{"name":"lp"},"transform":[{"filter":"datum.p=='D'"}],"mark":{"type":"line","interpolate":"cardinal-closed","color":"black","strokeWidth":1.8},"encoding":{"x":{"field":"x","type":"quantitative","scale":{"domain":[0,10]},"axis":null},"y":{"field":"y","type":"quantitative","scale":{"domain":[-300,0]},"axis":null},"detail":{"field":"id","type":"nominal"},"order":{"value":null}}},
{"data":{"name":"cl"},"transform":[{"filter":"datum.p=='D' && datum.lv==2"}],"mark":{"type":"line","interpolate":"cardinal","color":"black","strokeWidth":8,"strokeDash":[1.4,3.6]},"encoding":{"x":{"field":"x","type":"quantitative","scale":{"domain":[0,10]},"axis":null},"y":{"field":"y","type":"quantitative","scale":{"domain":[-300,0]},"axis":null},"detail":{"field":"id","type":"nominal"},"order":{"value":null}}},
{"data":{"name":"lp"},"transform":[{"filter":"datum.p=='D' && datum.lv==2"}],"mark":{"type":"line","interpolate":"cardinal-closed","color":"black","strokeWidth":8,"strokeDash":[1.4,3.6]},"encoding":{"x":{"field":"x","type":"quantitative","scale":{"domain":[0,10]},"axis":null},"y":{"field":"y","type":"quantitative","scale":{"domain":[-300,0]},"axis":null},"detail":{"field":"id","type":"nominal"},"order":{"value":null}}},
{"data":{"name":"pts"},"transform":[{"filter":"datum.p=='D'"}],"mark":{"type":"point","filled":true,"size":7,"color":"black","opacity":1},"encoding":{"x":{"field":"x","type":"quantitative","scale":{"domain":[0,10]},"axis":{"orient":"top","values":[0,1,2,3,4,5,6,7,8,9,10],"tickSize":4,"tickWidth":1.5,"domainWidth":1.5,"labelFont":"Liberation Sans Narrow, Liberation Sans","labelFontSize":21,"labelPadding":1,"labelFlush":false,"title":null}},"y":{"field":"y","type":"quantitative","scale":{"domain":[-300,0]},"axis":{"orient":"left","offset":23,"values":[0,-100,-200,-300],"tickSize":5,"tickWidth":1.5,"domainWidth":2,"labelFont":"Liberation Sans","labelFontSize":14,"labelPadding":2,"labelExpr":"replace(datum.label,'−','-')","title":"(m)","titleAngle":0,"titleX":-14,"titleY":-8,"titleFontSize":10,"titleFontWeight":"bold","titleAlign":"center","titleBaseline":"bottom"}}}},
{"data":{"name":"pts"},"transform":[{"filter":"datum.p=='D'"}],"mark":{"type":"text","font":"Liberation Sans","fontWeight":"bold","fontSize":12,"dy":10,"color":"black"},"encoding":{"x":{"field":"x","type":"quantitative","scale":{"domain":[0,10]},"axis":null},"y":{"field":"y","type":"quantitative","scale":{"domain":[-300,0]},"axis":null},"text":{"field":"v","type":"nominal"}}},
{"data":{"name":"labs"},"transform":[{"filter":"datum.p=='D'"}],"mark":{"type":"text","font":"Liberation Sans","fontSize":19,"color":"black"},"encoding":{"x":{"field":"x","type":"quantitative","scale":{"domain":[0,10]},"axis":null},"y":{"field":"y","type":"quantitative","scale":{"domain":[-300,0]},"axis":null},"text":{"field":"t","type":"nominal"}}},
{"data":{"name":"nlab"},"mark":{"type":"text","font":"Liberation Sans","fontWeight":"bold","fontSize":11,"color":"black"},"encoding":{"x":{"datum":0.18,"type":"quantitative","scale":{"domain":[0,10]},"axis":null},"y":{"field":"y","type":"quantitative","scale":{"domain":[-300,0]},"axis":{"orient":"right","offset":24,"values":[0,-100,-200,-300],"tickSize":5,"tickWidth":1.5,"domainWidth":2,"labelFont":"Liberation Sans","labelFontSize":14,"labelAlign":"right","labelPadding":38,"labelExpr":"replace(datum.label,'−','-')","title":"(m)","titleAngle":0,"titleX":26,"titleY":-3,"titleFontSize":10,"titleFontWeight":"bold","titleAlign":"center","titleBaseline":"bottom"}},"text":{"field":"t","type":"nominal"}}}
]}
],
"spacing":143,
"bounds":"flush"
}
